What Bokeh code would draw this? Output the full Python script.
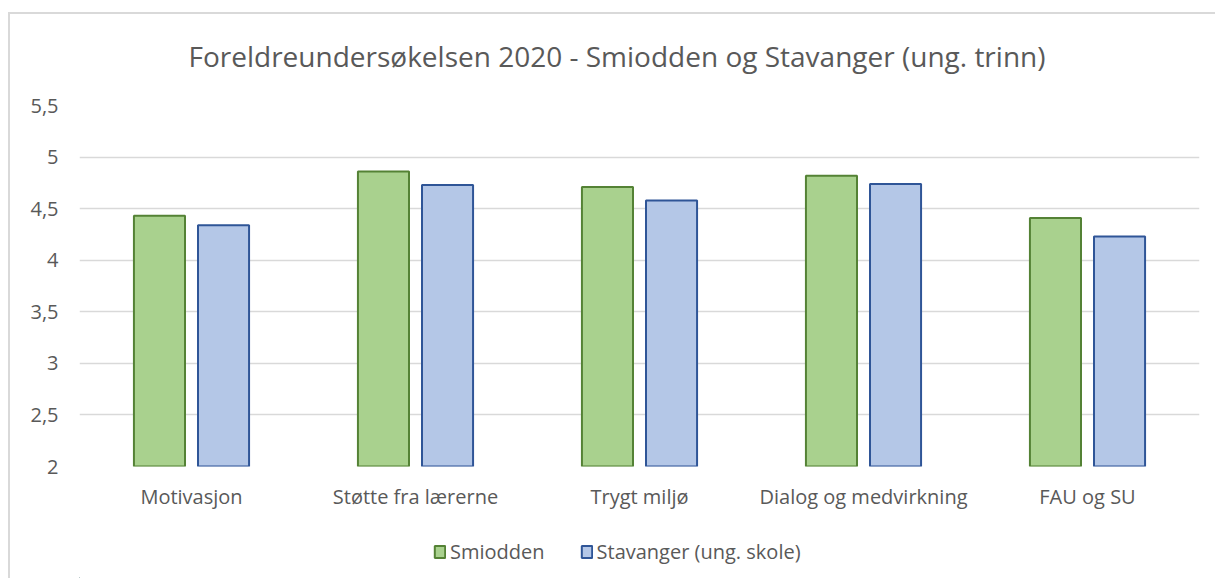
from bokeh.plotting import figure
from bokeh.layouts import column
from bokeh.models import (ColumnDataSource, FactorRange, Range1d, FixedTicker, Legend,
                          LegendItem, Label)
from bokeh.transform import dodge
from bokeh.embed import file_html
from bokeh.resources import INLINE

categories = ["Motivasjon", "Støtte fra lærerne", "Trygt miljø", "Dialog og medvirkning", "FAU og SU"]
smiodden = [4.43, 4.86, 4.71, 4.82, 4.41]
stavanger = [4.34, 4.73, 4.58, 4.74, 4.23]
y_ticks = [2, 2.5, 3, 3.5, 4, 4.5, 5, 5.5]
y_tick_labels = ["2", "2,5", "3", "3,5", "4", "4,5", "5", "5,5"]
series_names = ["Smiodden", "Stavanger (ung. skole)"]
title_text = "Foreldreundersøkelsen 2020 - Smiodden og Stavanger (ung. trinn)"

FONT = "Open Sans"
TXT = "#595959"
GREEN_FILL, GREEN_LINE = "#a9d18e", "#548235"
BLUE_FILL, BLUE_LINE = "#b4c7e7", "#2f5597"


def strip(height):
    f = figure(x_range=Range1d(0, 1), y_range=Range1d(0, 1), width=1205, height=height,
               output_backend="svg", toolbar_location=None,
               min_border_left=69, min_border_right=16, min_border_top=0, min_border_bottom=0)
    f.axis.visible = False
    f.grid.visible = False
    f.outline_line_color = None
    return f


# title strip
t = strip(70)
t.add_layout(Label(x=109, y=29, x_units="screen", y_units="screen", text=title_text,
                   text_font=FONT, text_font_size="28px", text_color=TXT,
                   text_align="left", text_baseline="middle"))

# main chart
src = ColumnDataSource(dict(cat=categories, s=smiodden, t=stavanger))
p = figure(x_range=FactorRange(*categories), y_range=Range1d(2, 5.5),
           width=1205, height=441, output_backend="svg", toolbar_location=None,
           min_border_left=69, min_border_right=16, min_border_top=21, min_border_bottom=59)
p.x_range.range_padding = 0
p.outline_line_color = None
p.background_fill_color = "white"
p.border_fill_color = "white"

p.xgrid.grid_line_color = None
p.ygrid.grid_line_color = "#d9d9d9"
p.ygrid.grid_line_width = 1.5

p.yaxis.ticker = FixedTicker(ticks=y_ticks)
p.yaxis.major_label_overrides = {t_: l for t_, l in zip(y_ticks, y_tick_labels)}
for ax in (p.xaxis[0], p.yaxis[0]):
    ax.axis_line_color = None
    ax.major_tick_line_color = None
    ax.minor_tick_line_color = None
    ax.major_label_text_font = FONT
    ax.major_label_text_font_size = "20px"
    ax.major_label_text_color = TXT
p.yaxis.major_label_standoff = 15
p.xaxis.major_label_standoff = 10

p.vbar(x=dodge("cat", -0.143, range=p.x_range), top="s", bottom=2, width=0.228, source=src,
       fill_color=GREEN_FILL, line_color=GREEN_LINE, line_width=2)
p.vbar(x=dodge("cat", 0.143, range=p.x_range), top="t", bottom=2, width=0.228, source=src,
       fill_color=BLUE_FILL, line_color=BLUE_LINE, line_width=2)

# legend strip
q = strip(53)
offscreen = ColumnDataSource(dict(x=[-5.0], top=[-5.0]))
g1 = q.vbar(x="x", top="top", bottom=-6, width=0.1, source=offscreen,
            fill_color=GREEN_FILL, line_color=GREEN_LINE, line_width=2)
g2 = q.vbar(x="x", top="top", bottom=-6, width=0.1, source=offscreen,
            fill_color=BLUE_FILL, line_color=BLUE_LINE, line_width=2)
legend = Legend(items=[LegendItem(label=series_names[0], renderers=[g1]),
                       LegendItem(label=series_names[1], renderers=[g2])],
                orientation="horizontal", location=(354, 13),
                glyph_width=13, glyph_height=15, label_standoff=4, spacing=35,
                label_text_font=FONT, label_text_font_size="20px", label_text_color=TXT,
                border_line_color=None, background_fill_alpha=0, padding=0, margin=0)
q.add_layout(legend, "center")

layout = column(t, p, q, spacing=0,
                styles={"margin-top": "12px", "margin-left": "8px",
                        "border-left": "2px solid #d9d9d9",
                        "border-top": "2px solid #d9d9d9"})

open("out.html", "w").write(file_html(layout, INLINE))
